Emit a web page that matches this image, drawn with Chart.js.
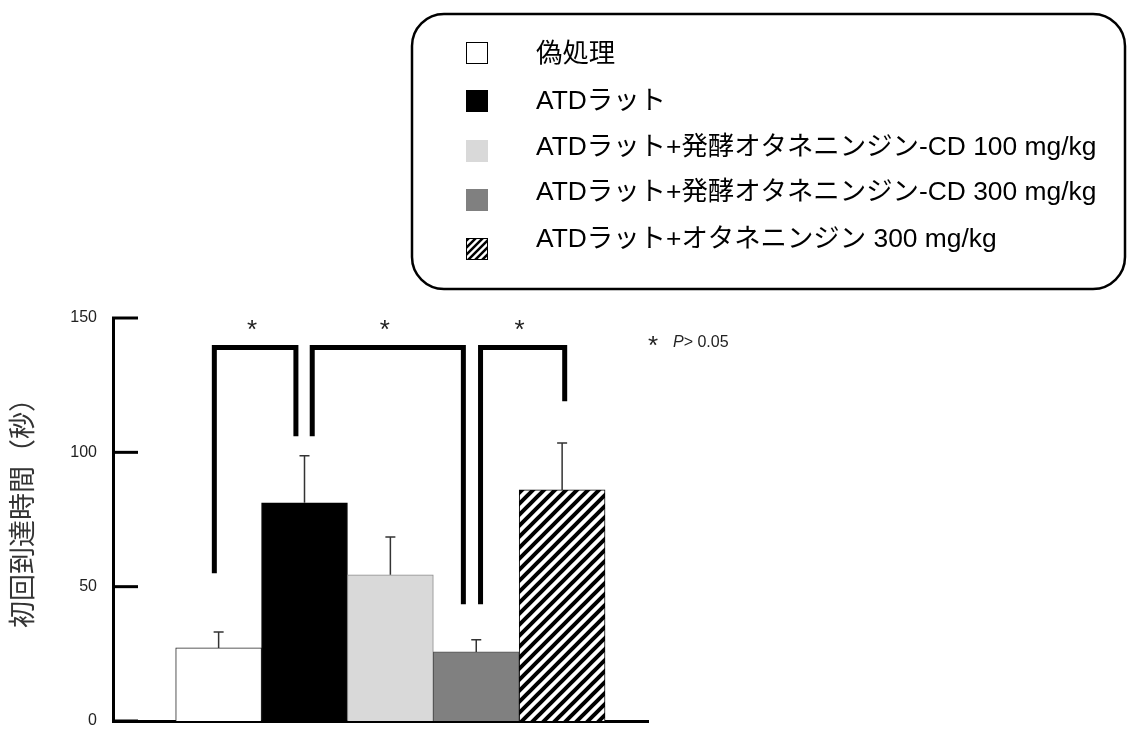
<!DOCTYPE html>
<html>
<head>
<meta charset="utf-8">
<script src="https://cdn.jsdelivr.net/npm/chart.js@4.4.0/dist/chart.umd.min.js"></script>
<style>
    html, body { margin: 0; padding: 0; background: #fff; }
    #wrap { width: 1127px; height: 731px; }
</style>
</head>
<body>
<div id="wrap"><canvas id="chartId" width="1127" height="731"></canvas></div>
<script>
// groups, in bar order
const groupLabels = [
    '偽処理',
    'ATDラット',
    'ATDラット+発酵オタネニンジン-CD 100 mg/kg',
    'ATDラット+発酵オタネニンジン-CD 300 mg/kg',
    'ATDラット+オタネニンジン 300 mg/kg'
];
const groupPos = [1, 2, 3, 4, 5];
const meanValues = [27.2, 81.2, 54.4, 25.7, 86.0];
const errValues = [5.9, 17.5, 14.1, 4.5, 17.5];
const yTicks = [0, 50, 100, 150];
const yTitle = '初回到達時間（秒）';

// significance brackets (x in group units, y in seconds)
const bracketFrom = [0.95, 2.09, 4.05];
const bracketTo = [1.9, 3.85, 5.03];
const bracketTop = 139;
const bracketFromLow = [55, 106, 43.5];
const bracketToLow = [106, 43.5, 119];
const starLevel = 147;
const noteLevel = 141;
const noteText = 'P> 0.05';

const FONT = '"Liberation Sans", "Noto Sans CJK JP", sans-serif';

function makeHatch(size, width) {
    const c = document.createElement('canvas');
    c.width = size;
    c.height = size;
    const g = c.getContext('2d');
    g.fillStyle = '#fff';
    g.fillRect(0, 0, size, size);
    g.strokeStyle = '#000';
    g.lineWidth = width;
    g.beginPath();
    g.moveTo(0, size); g.lineTo(size, 0);
    g.moveTo(-2, 2); g.lineTo(2, -2);
    g.moveTo(size - 2, size + 2); g.lineTo(size + 2, size - 2);
    g.stroke();
    return g.createPattern(c, 'repeat');
}

const ctx = document.getElementById('chartId').getContext('2d');
const hatch = makeHatch(11, 4);
const hatchSmall = makeHatch(7, 2.5);

const barColors = ['#ffffff', '#000000', '#d9d9d9', '#808080', hatch];
const swatchColors = ['#ffffff', '#000000', '#d9d9d9', '#808080', hatchSmall];
const barBorders = ['#222', '#000', '#8a8a8a', '#555', '#000'];

// upward error bars, inward y ticks, brackets, y title and the note
const extrasPlugin = {
    id: 'extras',
    afterDatasetsDraw(chart) {
        const c = chart.ctx;
        const xs = chart.scales.x;
        const ys = chart.scales.y;
        const area = chart.chartArea;
        c.save();

        // error bars
        c.strokeStyle = '#333';
        c.lineWidth = 1.5;
        groupPos.forEach((p, i) => {
            const x = xs.getPixelForValue(p);
            const y0 = ys.getPixelForValue(meanValues[i]);
            const y1 = ys.getPixelForValue(meanValues[i] + errValues[i]);
            c.beginPath();
            c.moveTo(x, y0); c.lineTo(x, y1);
            c.moveTo(x - 5, y1); c.lineTo(x + 5, y1);
            c.stroke();
        });

        // inward ticks on the y axis
        c.strokeStyle = '#000';
        c.lineWidth = 3;
        yTicks.forEach(v => {
            const y = ys.getPixelForValue(v);
            c.beginPath();
            c.moveTo(area.left - 1, y); c.lineTo(area.left + 25, y);
            c.stroke();
        });

        // brackets
        c.lineWidth = 5;
        c.lineJoin = 'miter';
        const yTop = ys.getPixelForValue(bracketTop);
        bracketFrom.forEach((f, i) => {
            const xa = xs.getPixelForValue(f);
            const xb = xs.getPixelForValue(bracketTo[i]);
            c.beginPath();
            c.moveTo(xa, ys.getPixelForValue(bracketFromLow[i]));
            c.lineTo(xa, yTop);
            c.lineTo(xb, yTop);
            c.lineTo(xb, ys.getPixelForValue(bracketToLow[i]));
            c.stroke();
            c.fillStyle = '#222';
            c.font = '26px ' + FONT;
            c.textAlign = 'center';
            c.textBaseline = 'middle';
            c.fillText('*', (xa + xb) / 2 - 3, ys.getPixelForValue(starLevel) + 5);
        });

        // note
        const ny = ys.getPixelForValue(noteLevel);
        c.textAlign = 'left';
        c.textBaseline = 'middle';
        c.font = '26px ' + FONT;
        c.fillText('*', area.right, ny + 5);
        c.font = 'italic 16px ' + FONT;
        c.fillText(noteText.charAt(0), area.right + 25, ny);
        const pw = c.measureText(noteText.charAt(0)).width;
        c.font = '16px ' + FONT;
        c.fillText(noteText.slice(1), area.right + 25 + pw, ny);

        // y axis title, sitting a little above the middle of the axis
        c.translate(25, (area.top + area.bottom) / 2 - 13);
        c.rotate(-Math.PI / 2);
        c.textAlign = 'center';
        c.fillStyle = '#333';
        c.font = '27px ' + FONT;
        c.fillText(yTitle, 0, 0);

        c.restore();
    },
    afterDraw(chart) {
        // legend in a rounded box
        const c = chart.ctx;
        c.save();
        c.strokeStyle = '#000';
        c.lineWidth = 2.5;
        c.beginPath();
        c.roundRect(412, 14, 713, 275, 32);
        c.stroke();

        const swatchY = [53, 101, 151, 200, 249];
        const textY = [55, 102, 148, 193, 240];
        c.font = '26.4px ' + FONT;
        c.textAlign = 'left';
        c.textBaseline = 'middle';
        groupLabels.forEach((lab, i) => {
            c.fillStyle = swatchColors[i];
            c.fillRect(466, swatchY[i] - 11, 22, 22);
            if (i === 0 || i === 4) {
                c.lineWidth = 1;
                c.strokeStyle = '#000';
                c.strokeRect(466.5, swatchY[i] - 10.5, 21, 21);
            }
            c.fillStyle = '#000';
            c.fillText(lab, 536, textY[i]);
        });
        c.restore();
    }
};

const chart = new Chart(ctx, {
    type: 'bar',
    data: {
        labels: groupLabels,
        datasets: [{
            data: groupPos.map((p, i) => ({ x: p, y: meanValues[i] })),
            backgroundColor: barColors,
            borderColor: barBorders,
            borderWidth: 1,
            barPercentage: 1,
            categoryPercentage: 1
        }]
    },
    options: {
        responsive: false,
        animation: false,
        layout: { padding: { top: 318, right: 479, bottom: 10, left: 0 } },
        plugins: { legend: { display: false }, tooltip: { enabled: false } },
        scales: {
            x: {
                type: 'linear',
                min: -0.23,
                max: 6.0,
                offset: false,
                z: 1,
                grid: { display: false, drawTicks: false },
                ticks: { display: false, stepSize: 1, includeBounds: false },
                border: { display: true, color: '#000', width: 3 }
            },
            y: {
                min: 0,
                max: 150,
                z: 1,
                grid: { display: false, drawTicks: false },
                border: { display: true, color: '#000', width: 3 },
                ticks: {
                    stepSize: 50,
                    padding: 16,
                    color: '#222',
                    font: { family: FONT, size: 16 }
                },
                afterFit(scale) {
                    scale.width = 113;
                    scale.paddingTop = 0;
                    scale.paddingBottom = 0;
                }
            }
        }
    },
    plugins: [extrasPlugin]
});
</script>
</body>
</html>
